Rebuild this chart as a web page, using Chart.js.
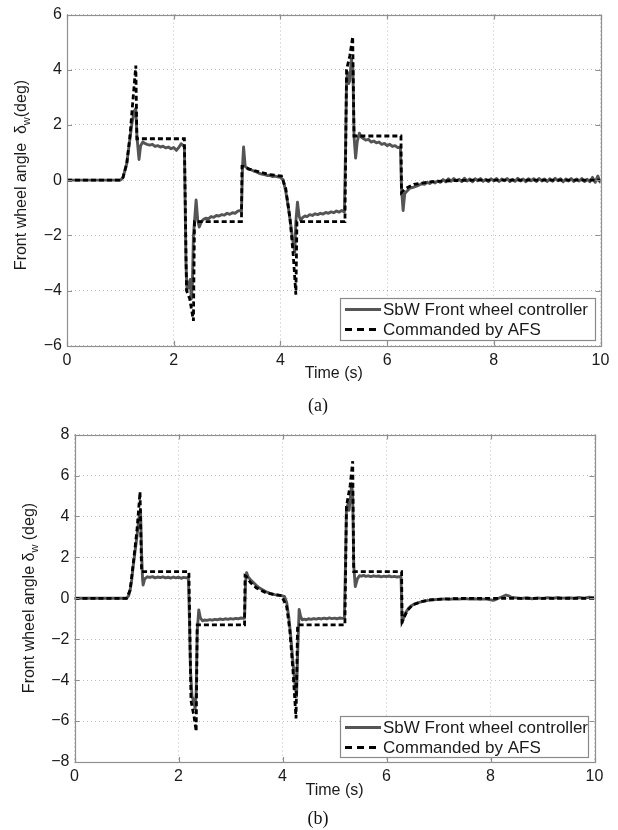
<!DOCTYPE html>
<html><head><meta charset="utf-8">
<script src="https://cdn.jsdelivr.net/npm/chart.js@4.4.1/dist/chart.umd.min.js"></script>
<style>
html,body{margin:0;padding:0;background:#fff;}
#wrap{position:relative;width:618px;height:830px;overflow:hidden;background:#fff;}
canvas{position:absolute;left:0;}
.cap{position:absolute;font-family:'Liberation Serif','Times New Roman',serif;font-size:18px;color:#111;transform:translate(-50%,-50%);white-space:nowrap;}
</style></head><body>
<div id="wrap">
<canvas id="ca" width="618" height="420" style="top:0"></canvas>
<canvas id="cb" width="618" height="410" style="top:420px"></canvas>
<div class="cap" style="left:318px;top:405px">(a)</div>
<div class="cap" style="left:318px;top:818px">(b)</div>
</div>
<script>
// ---------------- data ----------------
const seriesNames = ['SbW Front wheel controller', 'Commanded by AFS'];
const xTitle = 'Time (s)';
const xTicks = [0, 2, 4, 6, 8, 10];
const yTicksA = [-6, -4, -2, 0, 2, 4, 6];
const yTicksB = [-8, -6, -4, -2, 0, 2, 4, 6, 8];

// (a) SbW front wheel controller  [time s, angle deg]
const sbwA = [[0,0],[1.0,0],[1.05,0.1],[1.12,0.6],[1.18,1.5],[1.22,2.1],[1.26,2.5],[1.29,2.6],[1.31,1.6],[1.35,0.75],
[1.38,1.25],[1.42,1.38],[1.46,1.33],[1.5,1.3],[1.55,1.27],[1.6,1.3],[1.65,1.22],[1.7,1.25],[1.75,1.2],[1.8,1.23],
[1.85,1.17],[1.9,1.2],[1.95,1.14],[2.0,1.18],[2.05,1.08],[2.1,1.2],[2.14,1.32],[2.18,1.25],[2.2,1.2],[2.23,-3.0],
[2.25,-4.0],[2.27,-3.7],[2.29,-3.9],[2.31,-3.6],[2.33,-4.3],[2.35,-3.8],[2.37,-2.0],[2.39,-1.5],[2.42,-0.72],[2.45,-1.45],
[2.48,-1.7],[2.52,-1.5],[2.56,-1.42],[2.6,-1.38],[2.65,-1.4],[2.7,-1.32],[2.75,-1.35],[2.8,-1.28],[2.85,-1.3],[2.9,-1.25],
[2.95,-1.27],[3.0,-1.2],[3.05,-1.24],[3.1,-1.18],[3.15,-1.2],[3.2,-1.12],[3.25,-1.1],[3.27,-1.15],[3.29,0.5],[3.31,1.2],
[3.34,0.5],[3.37,0.45],[3.4,0.4],[3.45,0.38],[3.5,0.33],[3.55,0.3],[3.6,0.25],[3.65,0.22],[3.7,0.2],[3.75,0.17],
[3.8,0.18],[3.85,0.13],[3.9,0.15],[3.95,0.12],[4.0,0.1],[4.05,0.02],[4.1,-0.4],[4.15,-1.0],[4.2,-1.7],[4.24,-2.3],
[4.27,-2.6],[4.29,-1.5],[4.32,-0.8],[4.35,-1.3],[4.38,-1.45],[4.42,-1.35],[4.46,-1.3],[4.5,-1.32],[4.55,-1.25],[4.6,-1.28],
[4.65,-1.22],[4.7,-1.25],[4.75,-1.2],[4.8,-1.23],[4.85,-1.17],[4.9,-1.2],[4.95,-1.15],[5.0,-1.18],[5.05,-1.12],[5.1,-1.16],
[5.15,-1.1],[5.2,-1.15],[5.22,1.0],[5.24,3.6],[5.26,3.9],[5.28,3.5],[5.3,3.6],[5.33,4.4],[5.36,4.0],[5.38,1.6],
[5.41,0.8],[5.44,1.4],[5.48,1.7],[5.52,1.55],[5.56,1.5],[5.6,1.45],[5.65,1.48],[5.7,1.38],[5.75,1.42],[5.8,1.35],
[5.85,1.38],[5.9,1.3],[5.95,1.33],[6.0,1.25],[6.05,1.3],[6.1,1.22],[6.15,1.25],[6.2,1.18],[6.25,1.2],[6.27,-0.3],
[6.3,-1.1],[6.33,-0.5],[6.37,-0.4],[6.42,-0.3],[6.5,-0.25],[6.6,-0.18],[6.65,-0.12],[6.7,-0.15],[6.75,-0.08],[6.8,-0.12],
[6.85,-0.05],[6.9,-0.1],[6.95,-0.03],[7.0,-0.08],[7.05,0.02],[7.1,-0.06],[7.15,0.05],[7.2,-0.04],[7.25,0.06],[7.3,-0.02],
[7.35,0.03],[7.4,-0.05],[7.45,0.07],[7.5,-0.03],[7.55,0.04],[7.6,-0.06],[7.65,0.05],[7.7,-0.02],[7.75,0.06],[7.8,-0.04],
[7.85,0.03],[7.9,-0.05],[7.95,0.05],[8.0,-0.03],[8.05,0.06],[8.1,-0.05],[8.15,0.04],[8.2,-0.02],[8.25,0.06],[8.3,-0.05],
[8.35,0.03],[8.4,-0.04],[8.45,0.07],[8.5,-0.03],[8.55,0.04],[8.6,-0.06],[8.65,0.05],[8.7,-0.02],[8.75,0.05],[8.8,-0.05],
[8.85,0.06],[8.9,-0.03],[8.95,0.04],[9.0,-0.05],[9.05,0.05],[9.1,-0.04],[9.15,0.07],[9.2,-0.02],[9.25,0.05],[9.3,-0.06],
[9.35,0.04],[9.4,-0.03],[9.45,0.06],[9.5,-0.05],[9.55,0.04],[9.6,-0.03],[9.65,0.06],[9.7,-0.05],[9.75,0.03],[9.8,-0.06],
[9.85,0.1],[9.9,-0.08],[9.95,0.15],[10.0,-0.1]];

// (a) Commanded by AFS
const cmdA = [[0,0],[1.0,0],[1.05,0.1],[1.12,0.6],[1.18,1.6],[1.24,3.0],[1.29,4.15],[1.31,1.5],[2.2,1.5],[2.24,-4.0],
[2.3,-4.3],[2.37,-5.1],[2.39,-1.5],[3.27,-1.5],[3.28,0.5],[3.3,0.5],[3.42,0.4],[3.6,0.3],[3.8,0.2],[4.02,0.15],
[4.1,-0.3],[4.18,-1.4],[4.24,-2.7],[4.29,-4.15],[4.31,-1.5],[5.21,-1.5],[5.24,4.0],[5.3,4.5],[5.355,5.2],[5.38,1.6],
[6.26,1.6],[6.27,-0.45],[6.35,-0.3],[6.5,-0.15],[6.8,-0.06],[7.2,-0.02],[7.6,0],[10,0]];

// (b) SbW front wheel controller
const sbwB = [[0,0],[1.0,0],[1.04,0.12],[1.07,0.4],[1.1,0.9],[1.13,1.6],[1.17,2.4],[1.2,3.0],[1.23,3.7],[1.25,4.1],
[1.27,4.3],[1.29,2.2],[1.31,0.9],[1.32,0.65],[1.35,0.95],[1.4,1.05],[1.45,1.02],[1.5,1.06],[1.55,1.0],[1.6,1.04],
[1.65,1.01],[1.7,1.05],[1.75,1.0],[1.8,1.03],[1.85,0.99],[1.9,1.04],[1.95,1.0],[2.0,1.03],[2.05,0.98],[2.1,1.02],
[2.15,1.0],[2.19,1.03],[2.21,-1.0],[2.23,-3.5],[2.26,-4.8],[2.29,-5.0],[2.32,-5.4],[2.34,-4.6],[2.36,-1.6],[2.39,-0.57],
[2.42,-0.95],[2.46,-1.1],[2.5,-1.06],[2.55,-1.08],[2.6,-1.04],[2.65,-1.07],[2.7,-1.03],[2.75,-1.05],[2.8,-1.01],[2.85,-1.04],
[2.9,-1.0],[2.95,-1.03],[3.0,-0.99],[3.05,-1.02],[3.1,-0.98],[3.15,-1.0],[3.2,-0.96],[3.25,-0.98],[3.27,-0.97],[3.29,0.8],
[3.31,1.25],[3.34,1.05],[3.38,0.92],[3.42,0.82],[3.46,0.72],[3.5,0.62],[3.55,0.52],[3.6,0.44],[3.65,0.37],[3.7,0.3],
[3.75,0.25],[3.8,0.21],[3.85,0.18],[3.9,0.16],[3.95,0.14],[4.0,0.12],[4.04,0.08],[4.08,-0.2],[4.12,-0.9],[4.16,-1.9],
[4.2,-3.1],[4.24,-4.2],[4.27,-4.8],[4.29,-2.8],[4.32,-0.55],[4.35,-0.9],[4.38,-1.05],[4.42,-1.02],[4.46,-1.05],[4.5,-1.0],
[4.55,-1.03],[4.6,-0.99],[4.65,-1.02],[4.7,-0.98],[4.75,-1.01],[4.8,-0.97],[4.85,-1.0],[4.9,-0.96],[4.95,-0.99],[5.0,-0.97],
[5.05,-1.0],[5.1,-0.96],[5.15,-0.98],[5.19,-0.97],[5.21,1.5],[5.23,4.4],[5.26,4.6],[5.28,4.3],[5.31,5.0],[5.33,5.6],
[5.35,5.0],[5.37,1.6],[5.4,0.57],[5.44,0.95],[5.48,1.1],[5.52,1.08],[5.56,1.12],[5.6,1.07],[5.65,1.1],[5.7,1.06],
[5.75,1.1],[5.8,1.07],[5.85,1.09],[5.9,1.05],[5.95,1.08],[6.0,1.06],[6.05,1.09],[6.1,1.05],[6.15,1.07],[6.2,1.04],
[6.25,1.06],[6.28,1.03],[6.3,-1.2],[6.33,-0.95],[6.37,-0.7],[6.42,-0.5],[6.47,-0.38],[6.52,-0.3],[6.6,-0.22],[6.7,-0.15],
[6.8,-0.1],[6.9,-0.07],[7.0,-0.05],[7.1,-0.03],[7.2,-0.05],[7.3,-0.02],[7.4,-0.04],[7.5,-0.01],[7.6,-0.04],[7.7,-0.02],
[7.8,-0.05],[7.9,-0.03],[8.0,-0.08],[8.05,-0.1],[8.1,-0.06],[8.2,0.05],[8.3,0.16],[8.35,0.12],[8.4,0.05],[8.5,0.02],
[8.6,-0.01],[8.7,0.03],[8.8,-0.02],[8.9,0.02],[9.0,-0.01],[9.1,0.03],[9.2,0.0],[9.3,0.04],[9.4,0.01],[9.5,0.03],
[9.6,0.0],[9.7,0.04],[9.8,0.01],[9.9,0.05],[10.0,0.03]];

// (b) Commanded by AFS
const cmdB = [[0,0],[1.0,0],[1.07,0.4],[1.13,1.7],[1.2,3.3],[1.26,5.2],[1.29,1.3],[2.2,1.3],[2.24,-5.0],[2.3,-5.8],
[2.34,-6.5],[2.36,-1.3],[3.27,-1.3],[3.28,1.1],[3.31,1.05],[3.38,0.78],[3.5,0.5],[3.7,0.25],[3.98,0.13],[4.08,-0.4],
[4.14,-1.55],[4.2,-3.5],[4.26,-5.87],[4.29,-1.3],[5.2,-1.3],[5.23,4.5],[5.3,5.5],[5.35,6.7],[5.37,1.3],[6.29,1.3],
[6.3,-1.14],[6.4,-0.6],[6.5,-0.33],[6.65,-0.18],[6.82,-0.08],[7.14,-0.03],[7.6,0],[10,0]];

// ---------------- drawing ----------------
const FONT = "'Liberation Sans', Arial, Helvetica, sans-serif";
const TXT = '#1a1a1a';
const fmt = v => (v < 0 ? '\u2212' + (-v) : String(v));

function boxPlugin(cfg, yTicks) {
  return {
    id: 'matlabBox',
    afterDatasetsDraw(chart) {
      const ctx = chart.ctx;
      const {left, top, right, bottom} = chart.chartArea;
      const sx = chart.scales.x, sy = chart.scales.y;
      ctx.save();
      ctx.setLineDash([]);
      ctx.strokeStyle = '#8f8f8f';
      ctx.lineWidth = 1.2;
      ctx.beginPath();
      xTicks.forEach(v => {
        const p = Math.round(sx.getPixelForValue(v)) + 0.5;
        ctx.moveTo(p, bottom); ctx.lineTo(p, bottom - 5);
        ctx.moveTo(p, top); ctx.lineTo(p, top + 5);
      });
      yTicks.forEach(v => {
        const p = Math.round(sy.getPixelForValue(v)) + 0.5;
        ctx.moveTo(left, p); ctx.lineTo(left + 5, p);
        ctx.moveTo(right, p); ctx.lineTo(right - 5, p);
      });
      ctx.stroke();
      ctx.strokeRect(Math.round(left) + 0.5, Math.round(top) + 0.5, Math.round(right - left), Math.round(bottom - top));

      // legend
      const L = cfg.legend;
      ctx.fillStyle = '#fff';
      ctx.fillRect(L.x1, L.y1, L.x2 - L.x1, L.y2 - L.y1);
      ctx.strokeStyle = '#8a8a8a';
      ctx.lineWidth = 1.2;
      ctx.strokeRect(L.x1 + 0.5, L.y1 + 0.5, L.x2 - L.x1, L.y2 - L.y1);
      const rows = [L.y1 + 11.5, L.y1 + 31.5];
      chart.data.datasets.forEach((ds, i) => {
        ctx.beginPath();
        ctx.strokeStyle = ds.borderColor;
        ctx.lineWidth = ds.borderWidth;
        ctx.setLineDash(i === 1 ? [7, 5] : []);
        ctx.moveTo(L.x1 + 5, rows[i]); ctx.lineTo(L.x1 + 41, rows[i]);
        ctx.stroke();
        ctx.setLineDash([]);
        ctx.fillStyle = TXT;
        ctx.font = '17px ' + FONT;
        ctx.textBaseline = 'middle';
        ctx.textAlign = 'left';
        ctx.fillText(ds.label, L.x1 + 43, rows[i] + 1);
      });
      ctx.restore();
    },
    afterDraw(chart) {
      const ctx = chart.ctx;
      const T = cfg.yTitle;
      ctx.save();
      ctx.translate(T.x, T.y);
      ctx.rotate(-Math.PI / 2);
      ctx.fillStyle = TXT;
      ctx.textBaseline = 'middle';
      ctx.textAlign = 'left';
      const mainF = '16px ' + FONT, subF = '11px ' + FONT;
      ctx.font = mainF; const w1 = ctx.measureText(T.text1).width; const w3 = ctx.measureText(T.text2).width;
      ctx.font = subF; const w2 = ctx.measureText(T.sub).width;
      let x0 = -(w1 + w2 + w3) / 2;
      ctx.font = mainF; ctx.fillText(T.text1, x0, 0);
      ctx.font = subF; ctx.fillText(T.sub, x0 + w1, 5);
      ctx.font = mainF; ctx.fillText(T.text2, x0 + w1 + w2, 0);
      ctx.restore();
    }
  };
}

function makeChart(id, sbw, cmd, yTicks, cfg) {
  const toXY = arr => arr.map(p => ({x: p[0], y: p[1]}));
  const axisTicks = {padding: 5, color: TXT, font: {family: FONT, size: 16}, autoSkip: false, maxRotation: 0, callback: fmt};
  return new Chart(document.getElementById(id), {
    type: 'line',
    data: {
      datasets: [
        {label: seriesNames[0], data: toXY(sbw), borderColor: '#555555', borderWidth: 2.9, pointRadius: 0,
         tension: 0, fill: false, order: 1, borderJoinStyle: 'round'},
        {label: seriesNames[1], data: toXY(cmd), borderColor: '#000000', borderWidth: 2.8, pointRadius: 0,
         tension: 0, fill: false, order: 0, borderDash: [5, 3], borderJoinStyle: 'miter'}
      ]
    },
    options: {
      responsive: false, animation: false, devicePixelRatio: 1,
      parsing: true,
      layout: {padding: {top: cfg.padTop, right: cfg.padRight, left: 0, bottom: 0}},
      plugins: {legend: {display: false}, tooltip: {enabled: false}},
      scales: {
        x: {
          type: 'linear', min: 0, max: 10,
          afterBuildTicks: s => { s.ticks = xTicks.map(v => ({value: v})); },
          afterFit: s => { s.height = cfg.xHeight; },
          grid: {color: 'rgba(0,0,0,0.25)', lineWidth: 1, drawTicks: false},
          border: {display: false, dash: [1, 3]},
          ticks: axisTicks,
          title: {display: true, text: xTitle, color: TXT, font: {family: FONT, size: 16},
                  padding: {top: 0, bottom: cfg.titlePadBottom}}
        },
        y: {
          type: 'linear', min: yTicks[0], max: yTicks[yTicks.length - 1],
          afterBuildTicks: s => { s.ticks = yTicks.map(v => ({value: v})); },
          afterFit: s => { s.width = cfg.yWidth; },
          grid: {color: 'rgba(0,0,0,0.25)', lineWidth: 1, drawTicks: false},
          border: {display: false, dash: [1, 3]},
          ticks: axisTicks
        }
      }
    },
    plugins: [boxPlugin(cfg, yTicks)]
  });
}

makeChart('ca', sbwA, cmdA, yTicksA, {
  padTop: 10, padRight: 17.5, yWidth: 67, xHeight: 74.3, titlePadBottom: 36.6,
  legend: {x1: 340, y1: 298, x2: 595, y2: 340},
  yTitle: {x: 21.5, y: 175, text1: 'Front wheel angle  \u03B4', sub: 'w', text2: '(deg)'}
});
makeChart('cb', sbwB, cmdB, yTicksB, {
  padTop: 14.3, padRight: 23.5, yWidth: 74.5, xHeight: 68, titlePadBottom: 29.9,
  legend: {x1: 340, y1: 296, x2: 588, y2: 337},
  yTitle: {x: 29.5, y: 178, text1: 'Front wheel angle \u03B4', sub: 'w', text2: ' (deg)'}
});
</script>
</body></html>
